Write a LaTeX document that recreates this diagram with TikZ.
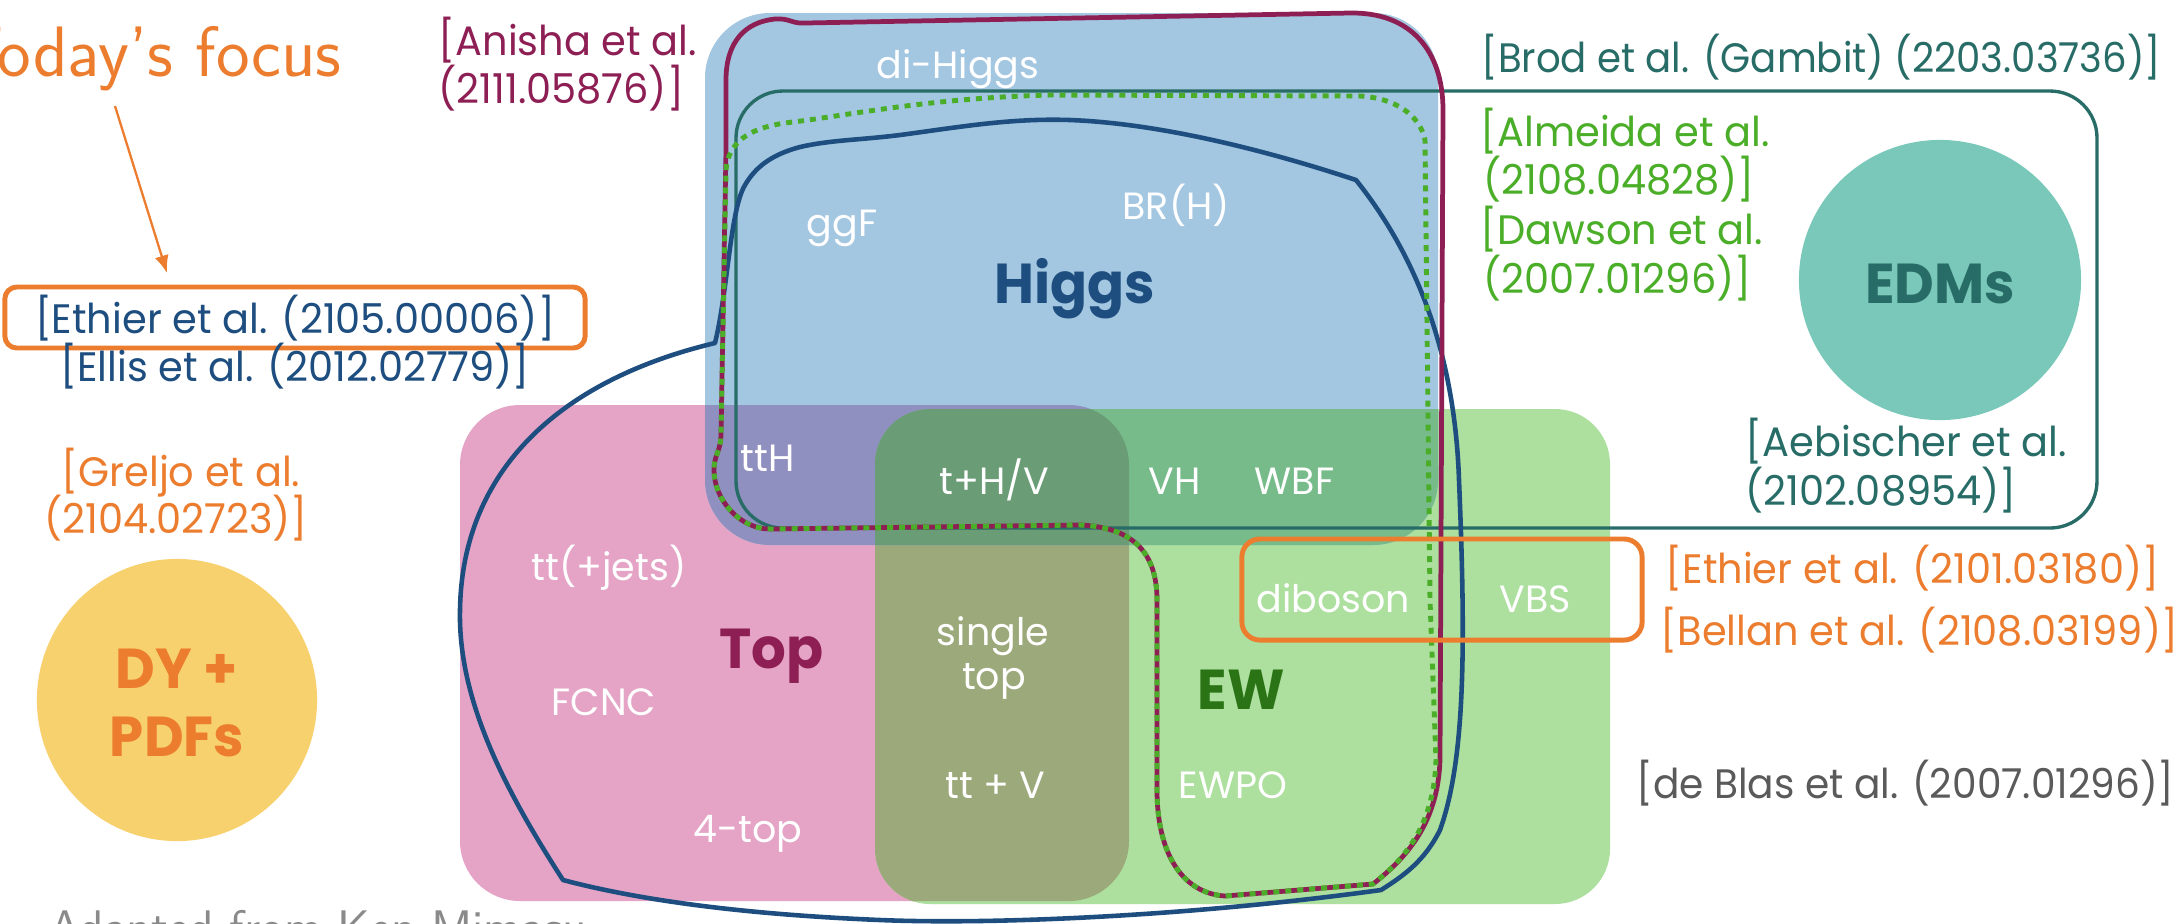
\documentclass[tikz,border=0pt]{standalone}
\usepackage{fontspec}
\setmainfont{Poppins}[FakeStretch=0.97]
\usetikzlibrary{arrows.meta}

% text and line colours
\definecolor{orangeT}{HTML}{EC7D2E}
\definecolor{navy}{HTML}{1D4E7F}
\definecolor{maroon}{HTML}{8E1F55}
\definecolor{tealD}{HTML}{276C66}
\definecolor{greenR}{HTML}{4BAE28}
\definecolor{greyR}{HTML}{5A5A5A}
\definecolor{greyA}{HTML}{8A8A8A}
\definecolor{ewD}{HTML}{2A7416}
% region fills
\definecolor{fPink}{HTML}{E5A4C6}
\definecolor{fGreen}{HTML}{ADDF9F}
\definecolor{fBlue}{HTML}{A3C6E1}
\definecolor{fOlive}{HTML}{9CA97B}
\definecolor{fPurple}{HTML}{8F90BF}
\definecolor{fBG}{HTML}{77BB8B}
\definecolor{fDark}{HTML}{6A9C76}
\definecolor{fTeal}{HTML}{7AC8BA}
\definecolor{fYellow}{HTML}{F8D16F}

\tikzset{
  ref/.style={font=\fontsize{11.7pt}{14pt}\selectfont, inner sep=0pt, anchor=base west},
  lbl/.style={font=\fontsize{10.8pt}{13pt}\selectfont\addfontfeature{FakeStretch=1.0}, text=white, inner sep=0pt, anchor=base west},
  big/.style={font=\fontsize{16pt}{19pt}\selectfont\bfseries, inner sep=0pt, anchor=base west},
  pinkbox/.style={rounded corners=0.6cm},
  greenbox/.style={rounded corners=0.55cm},
  bluebox/.style={rounded corners=0.65cm},
  higgsline/.style={draw=navy, line width=1.3pt, line join=round},
  anishaline/.style={draw=maroon, line width=1.35pt, line join=round},
  dottedgreen/.style={draw=greenR, line width=1.4pt, dash pattern=on 1.7pt off 1.7pt},
  tealline/.style={draw=tealD, line width=0.95pt},
  focusbox/.style={draw=orangeT, line width=1.4pt},
}

\begin{document}
\begin{tikzpicture}[x=0.01cm, y=-0.01cm]
\clip (0,0) rectangle (2178,923);
\fill[white] (0,0) rectangle (2178,923);

% ---- Top and EW regions
\fill[fPink, pinkbox] (460,405) rectangle (1129,901);
\fill[fGreen, greenbox] (875,409) rectangle (1610,904);
\begin{scope}
  \clip[pinkbox] (460,405) rectangle (1129,901);
  \fill[fOlive, greenbox] (875,409) rectangle (1610,904);
\end{scope}

% ---- Higgs region and its overlaps
\fill[fBlue, bluebox] (705,13) rectangle (1438,545);
\begin{scope}
  \clip[bluebox] (705,13) rectangle (1438,545);
  \fill[fPurple, pinkbox] (460,405) rectangle (1129,901);
  \fill[fBG, greenbox] (875,409) rectangle (1610,904);
  \begin{scope}
    \clip[pinkbox] (460,405) rectangle (1129,901);
    \fill[fDark, greenbox] (875,409) rectangle (1610,904);
  \end{scope}
\end{scope}

% ---- circles
\fill[fYellow] (177,700) ellipse [x radius=1.40cm, y radius=1.41cm];
\fill[fTeal] (1940,280) ellipse [x radius=1.41cm, y radius=1.40cm];

% ---- Brod et al. outline
\draw[tealline, rounded corners=0.47cm] (736,91) rectangle (2097,528);

% ---- Ellis et al. outline
\draw[higgsline] (715,343) .. controls (728,290) and (730,210) .. (745,185)
  .. controls (755,168) and (770,155) .. (800,147)
  .. controls (830,140) and (860,140) .. (900,135)
  .. controls (960,127) and (1010,118) .. (1070,120)
  .. controls (1150,123) and (1250,145) .. (1356,180)
  .. controls (1420,260) and (1455,360) .. (1459,480)
  .. controls (1466,650) and (1465,760) .. (1440,830)
  .. controls (1425,860) and (1405,875) .. (1381,890)
  .. controls (1200,915) and (1000,925) .. (880,920)
  .. controls (760,915) and (650,903) .. (563,880)
  .. controls (505,790) and (458,700) .. (460,610)
  .. controls (462,470) and (560,380) .. (715,343) -- cycle;

% ---- Anisha et al. outline
\draw[anishaline] (726,150) -- (726,80) .. controls (726,42) and (745,22) .. (775,19)
  .. controls (790,18) and (792,24) .. (805,23) -- (1350,13)
  .. controls (1410,12) and (1443,50) .. (1443,110) -- (1440,760)
  .. controls (1438,820) and (1410,855) .. (1373,884) -- (1225,896)
  .. controls (1180,893) and (1157,850) .. (1157,790) -- (1157,600)
  .. controls (1157,550) and (1130,527) .. (1080,525) -- (770,529)
  .. controls (740,529) and (714,500) .. (714,470)
  .. controls (714,455) and (721,450) .. (721,435) -- cycle;

% ---- Almeida / Dawson et al. outline
\draw[dottedgreen] (726,170) .. controls (728,145) and (745,127) .. (793,122)
  .. controls (850,115) and (930,98) .. (1050,95) -- (1360,96)
  .. controls (1395,98) and (1420,115) .. (1425,140) -- (1430,600) -- (1436,760)
  .. controls (1434,820) and (1410,855) .. (1373,884) -- (1225,896)
  .. controls (1180,893) and (1157,850) .. (1157,790) -- (1157,600)
  .. controls (1157,550) and (1130,527) .. (1080,525) -- (770,529)
  .. controls (740,529) and (714,500) .. (714,470)
  .. controls (714,455) and (721,450) .. (721,435) -- cycle;

% ---- highlighted references
\node[focusbox, rounded corners=0.12cm, minimum width=5.8cm, minimum height=0.61cm, inner sep=0pt] (ethBox) at (295,317.5) {};
\node[focusbox, rounded corners=0.18cm, minimum width=4.0cm, minimum height=1.01cm, inner sep=0pt] (vbsBox) at (1442,589.5) {};

% ---- headline and arrow
\node[font=\sffamily\fontsize{20.3pt}{24pt}\selectfont, text=orangeT, inner sep=0pt, anchor=base west] (focus) at (-43,76) {Today’s focus};
\coordinate (arrS) at (115,106);
\coordinate (arrE) at (167,273);
\draw[orangeT, line width=0.65pt, -{Latex[length=5pt,width=4pt]}] (arrS) -- (arrE);

% ---- references
\node[ref, text=maroon] (anisha1) at (438,55) {[Anisha et al.};
\node[ref, text=maroon] (anisha2) at (438,103) {(2111.05876)]};
\node[ref, text=navy, anchor=base] (ethier) at (295,333) {[Ethier et al. (2105.00006)]};
\node[ref, text=navy, anchor=base] (ellis) at (295,381) {[Ellis et al. (2012.02779)]};
\node[ref, text=orangeT, anchor=base] (greljo1) at (181,486) {[Greljo et al.};
\node[ref, text=orangeT, anchor=base] (greljo2) at (176,533) {(2104.02723)]};
\node[ref, text=tealD, font=\fontsize{11.7pt}{14pt}\selectfont\addfontfeature{FakeStretch=0.94}] (brod) at (1481,72) {[Brod et al. (Gambit) (2203.03736)]};
\node[ref, text=greenR] (almeida1) at (1480,146) {[Almeida et al.};
\node[ref, text=greenR] (almeida2) at (1483,194) {(2108.04828)]};
\node[ref, text=greenR] (dawson1) at (1480,244) {[Dawson et al.};
\node[ref, text=greenR] (dawson2) at (1483,293) {(2007.01296)]};
\node[ref, text=tealD] (aeb1) at (1745,456) {[Aebischer et al.};
\node[ref, text=tealD] (aeb2) at (1745,505) {(2102.08954)]};
\node[ref, text=orangeT] (ethier2) at (1665,583) {[Ethier et al. (2101.03180)]};
\node[ref, text=orangeT] (bellan) at (1660,645) {[Bellan et al. (2108.03199)]};
\node[ref, text=greyR, font=\fontsize{11.7pt}{14pt}\selectfont\addfontfeature{FakeStretch=0.95}] (deblas) at (1636,798) {[de Blas et al. (2007.01296)]};
\node[font=\sffamily\fontsize{13.8pt}{16pt}\selectfont, text=greyA, inner sep=0pt, anchor=base west] (adapted) at (49,944) {Adapted from Ken Mimasu};

% ---- region titles
\node[big, text=navy] (higgs) at (994,303) {Higgs};
\node[big, text=maroon] (top) at (719,668) {Top};
\node[big, text=ewD] (ew) at (1197,709) {EW};
\node[big, text=tealD, anchor=base] (edms) at (1940,303) {EDMs};
\node[big, text=orangeT, anchor=base] (dy) at (177,688) {DY +};
\node[big, text=orangeT, anchor=base] (pdfs) at (177,756) {PDFs};

% ---- process labels
\node[lbl] (dihiggs) at (876,78) {di-Higgs};
\node[lbl] (ggf) at (806,236) {ggF};
\node[lbl] (brh) at (1122,219) {BR(H)};
\node[lbl] (tth) at (740,471) {ttH};
\node[lbl] (thv) at (939,494) {t+H/V};
\node[lbl] (vh) at (1148,494) {VH};
\node[lbl] (wbf) at (1254,494) {WBF};
\node[lbl] (ttjets) at (531,580) {tt(+jets)};
\node[lbl] (fcnc) at (551,715) {FCNC};
\node[lbl, anchor=base] (single) at (993,645) {single};
\node[lbl, anchor=base] (stop) at (994,689) {top};
\node[lbl] (ttv) at (945,798) {tt + V};
\node[lbl] (fourtop) at (693,842) {4-top};
\node[lbl] (diboson) at (1256,612) {diboson};
\node[lbl] (vbs) at (1499,612) {VBS};
\node[lbl] (ewpo) at (1178,798) {EWPO};
\end{tikzpicture}
\end{document}
